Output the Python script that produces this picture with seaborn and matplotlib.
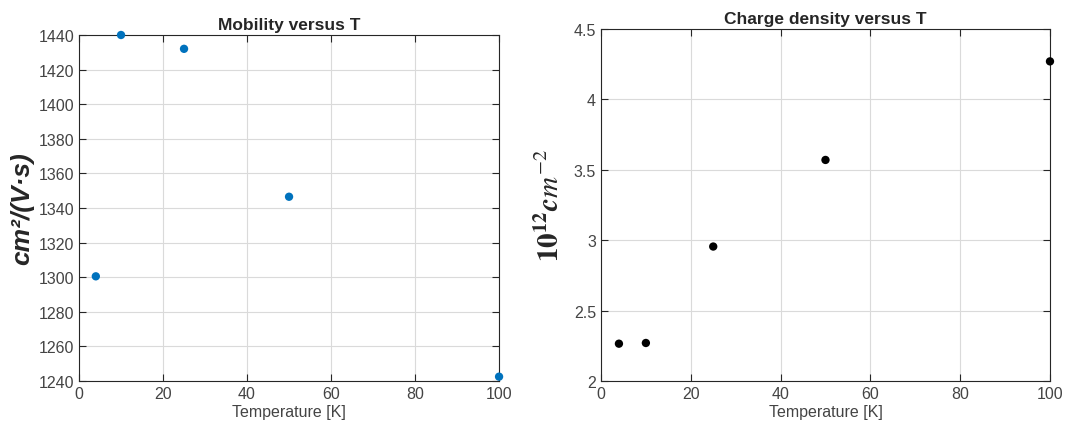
import matplotlib
matplotlib.use("Agg")
import matplotlib.pyplot as plt
import seaborn as sns
import pandas as pd

# Measurements at each temperature
temperature = [4, 10, 25, 50, 100]
mobility = [1300.5, 1440.0, 1432.0, 1346.5, 1242.5]
charge_density = [2.265, 2.27, 2.955, 3.57, 4.27]

x_ticks = [0, 20, 40, 60, 80, 100]
mob_ticks = list(range(1240, 1441, 20))
dens_ticks = [2, 2.5, 3, 3.5, 4, 4.5]
dens_labels = ["2", "2.5", "3", "3.5", "4", "4.5"]

sns.set_style("ticks")
plt.rcParams["font.family"] = ["Liberation Sans", "DejaVu Sans"]

df = pd.DataFrame({"T": temperature, "mu": mobility, "n": charge_density})

fig = plt.figure(figsize=(10.65, 4.31), dpi=100)
ax1 = fig.add_axes([0.0742, 0.1137, 0.3944, 0.8028])
ax2 = fig.add_axes([0.5643, 0.1137, 0.4216, 0.8167])

tick_color = "#444444"
edge_color = "#262626"


def style(ax):
    ax.grid(True, color="#dadada", linewidth=0.8)
    ax.set_axisbelow(True)
    for s in ax.spines.values():
        s.set_color(edge_color)
        s.set_linewidth(0.8)
        s.set_visible(True)
    ax.tick_params(direction="in", top=True, right=True, length=5,
                   width=0.8, color=edge_color, labelcolor=tick_color,
                   labelsize=11.5)
    ax.set_xlim(0, 100)
    ax.set_xticks(x_ticks)
    ax.set_xlabel("Temperature [K]", fontsize=11.5, color=tick_color,
                  labelpad=2)


sns.scatterplot(data=df, x="T", y="mu", ax=ax1, color="#0072BD", s=36,
                edgecolor="none", clip_on=False, zorder=3)
style(ax1)
ax1.set_ylim(1240, 1440)
ax1.set_yticks(mob_ticks)
ax1.set_title("Mobility versus T", fontsize=12.5, fontweight="bold", pad=4)
ax1.set_ylabel("cm²/(V·s)", fontsize=19, fontweight="bold", style="italic",
               labelpad=3)

sns.scatterplot(data=df, x="T", y="n", ax=ax2, color="black", s=36,
                edgecolor="none", clip_on=False, zorder=3)
style(ax2)
ax2.set_ylim(2, 4.5)
ax2.set_yticks(dens_ticks)
ax2.set_yticklabels(dens_labels)
ax2.set_title("Charge density versus T", fontsize=12.5, fontweight="bold",
              pad=4)
ax2.set_ylabel(r"$\mathbf{10^{12}}\boldsymbol{cm^{-2}}$", fontsize=21,
               math_fontfamily="stix", labelpad=6)

fig.savefig("out.png", dpi=100, facecolor="white")
